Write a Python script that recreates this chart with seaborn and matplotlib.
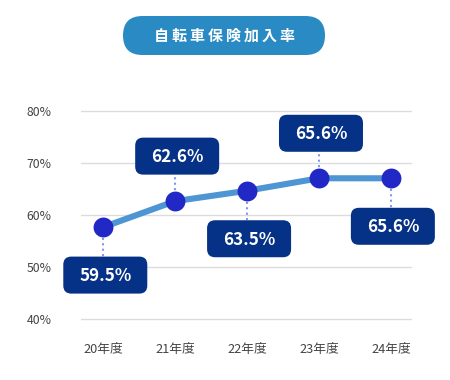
import matplotlib
matplotlib.use("Agg")
import matplotlib.pyplot as plt
import matplotlib.transforms as mtransforms
from matplotlib.patches import FancyBboxPatch
import seaborn as sns
import pandas as pd

# ---- data ----
years = ["20年度", "21年度", "22年度", "23年度", "24年度"]
label_values = [59.5, 62.6, 63.5, 65.6, 65.6]          # printed in the boxes
plotted_values = [57.7, 62.7, 64.7, 67.1, 67.1]        # where the points sit in the picture
y_ticks = [40, 50, 60, 70, 80]
title = "自転車保険加入率"

sns.set_theme(style="white")
plt.rcParams["font.family"] = ["Noto Sans CJK JP", "DejaVu Sans"]

W, H, DPI = 450, 380, 100
fig = plt.figure(figsize=(W / DPI, H / DPI), dpi=DPI)
fig.patch.set_facecolor("white")

ax_left, ax_right = 81, 411
ax_top, ax_bottom = 111.3, 319
ax = fig.add_axes([ax_left / W, 1 - ax_bottom / H, (ax_right - ax_left) / W, (ax_bottom - ax_top) / H])

df = pd.DataFrame({"year": years, "rate": plotted_values, "x": range(len(years))})

LINE_C = "#4d96d3"
DOT_C = "#2128c6"
BOX_C = "#053187"
CONN_C = "#7d96f2"

sns.lineplot(data=df, x="x", y="rate", ax=ax, color=LINE_C, linewidth=4.4, zorder=3)
sns.scatterplot(data=df, x="x", y="rate", ax=ax, color=DOT_C, s=205, linewidth=0, zorder=4)

ax.set_xlim(-0.31, 4.28)
ax.set_ylim(40, 80)
ax.set_yticks(y_ticks)
ax.set_yticklabels([f"{v}%" for v in y_ticks])
ax.set_xticks(range(len(years)))
ax.set_xticklabels(years)
ax.set_xlabel("")
ax.set_ylabel("")
ax.grid(axis="y", color="#dcdcdc", linewidth=1)
ax.grid(axis="x", visible=False)
for gl in ax.get_ygridlines():
    gl.set_clip_on(False)
for s in ax.spines.values():
    s.set_visible(False)
ax.tick_params(axis="y", length=0, pad=21, labelsize=8.8, labelcolor="#444444")
ax.tick_params(axis="x", length=0, pad=17, labelsize=9.2, labelcolor="#444444")

# ---- value boxes ----
sides = ["below", "above", "below", "above", "below"]
bw, bh = 84, 37
for i, (v, lab, side) in enumerate(zip(plotted_values, label_values, sides)):
    trans = mtransforms.Affine2D() + mtransforms.ScaledTranslation(i, v, ax.transData)
    if side == "above":
        cy = 45
        edge = cy - bh / 2
    else:
        cy = -48
        edge = cy + bh / 2
    cx = 2
    ax.plot([0, 0], [0, edge], transform=trans, color=CONN_C, linestyle=(0, (1, 1.6)),
            linewidth=1.5, zorder=2, clip_on=False)
    box = FancyBboxPatch((cx - bw / 2, cy - bh / 2), bw, bh,
                         boxstyle="round,pad=0,rounding_size=8",
                         transform=trans, facecolor=BOX_C, edgecolor="none",
                         zorder=5, clip_on=False)
    ax.add_patch(box)
    ax.text(cx, cy - 1, f"{lab}%", transform=trans, ha="center", va="center",
            color="white", fontsize=12.3, fontweight="bold", zorder=6)

# ---- title pill ----
pill = FancyBboxPatch((123, H - 55), 202, 39, boxstyle="round,pad=0,rounding_size=19.5",
                      transform=mtransforms.IdentityTransform(), facecolor="#2a8ac3",
                      edgecolor="none")
fig.patches.append(pill)
fig.text(224 / W, 1 - 35.5 / H, "\u2009".join(title), ha="center", va="center",
         color="white", fontsize=10.8, fontweight="bold")

fig.savefig("out.png", dpi=DPI)
